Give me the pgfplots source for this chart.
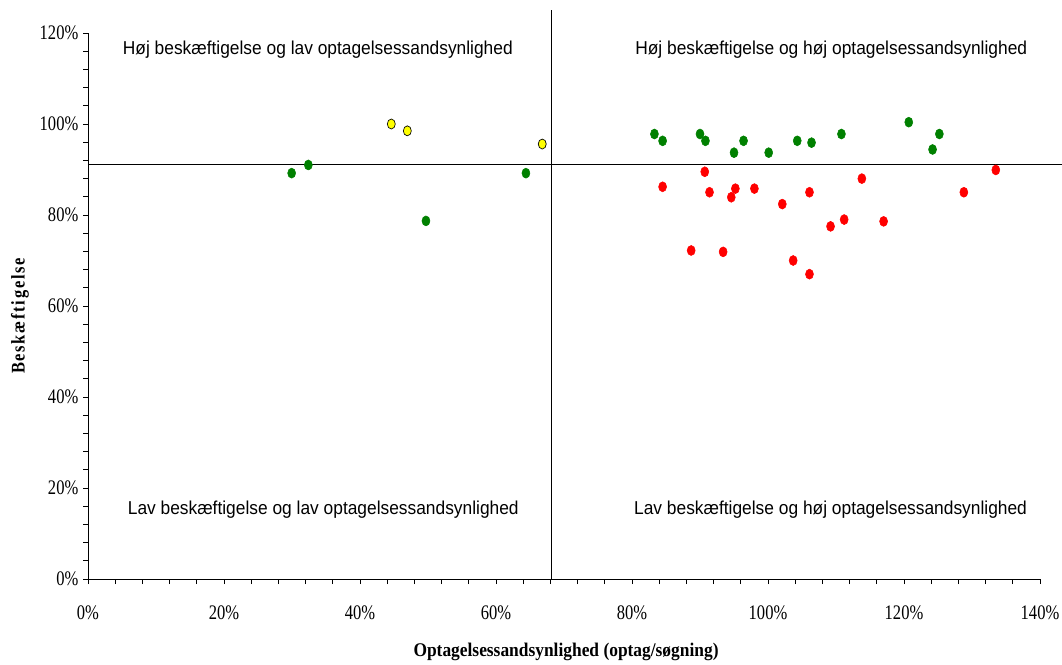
\documentclass[border=0pt]{standalone}
\usepackage{fontspec}
\usepackage{pgfplots}
\pgfplotsset{compat=1.18}
\setmainfont{Liberation Serif}
\newfontfamily\tickfont[FakeStretch=0.8]{Liberation Serif}
\newfontfamily\quadfont[FakeStretch=0.93]{Liberation Sans}
\newfontfamily\labfont[FakeStretch=0.9]{Liberation Serif}
\newfontfamily\ylabfont[LetterSpace=9,FakeStretch=0.85]{Liberation Serif}
\definecolor{cgreen}{RGB}{0,128,0}
\definecolor{cred}{RGB}{255,0,0}
\definecolor{cyellow}{RGB}{255,255,0}
\begin{document}
\begin{tikzpicture}
\begin{axis}[
  scale only axis, width=714pt, height=409.5pt,
  xmin=0, xmax=140, ymin=0, ymax=120,
  axis lines=left, axis line style={-, black, line width=0.6pt},
  xtick={0,20,...,140}, ytick={0,20,...,120},
  minor x tick num=4, minor y tick num=4,
  tick align=outside, major tick length=3.75pt, minor tick length=3.75pt,
  tick style={black, line width=0.6pt},
  /pgf/number format/assume math mode=true,
  xticklabel={\pgfmathprintnumber{\tick}\%},
  yticklabel={\pgfmathprintnumber{\tick}\%},
  tick label style={font=\tickfont\fontsize{15.5}{18}\selectfont},
  xticklabel style={yshift=-13pt},
  clip=false,
]
\coordinate (ll) at (rel axis cs:0,0);
\coordinate (ur) at (rel axis cs:1,1);
% quadrant lines
\draw[black, line width=0.75pt] (axis cs:68.2,0) -- (axis cs:68.2,125.1);
\draw[black, line width=0.75pt] (axis cs:0,91.0) -- (axis cs:143.5,91.0);
% green
\addplot[only marks, mark=*, mark size=3pt, mark options={yscale=1.25, fill=cgreen, draw=cgreen}] coordinates {
(29.95,89.2) (32.4,91.0) (64.4,89.2) (49.7,78.7)
(83.3,97.8) (84.5,96.3) (90.0,97.8) (90.8,96.3) (95.0,93.7) (96.4,96.3)
(100.1,93.7) (104.3,96.3) (106.4,95.9) (110.8,97.8) (120.7,100.4)
(125.2,97.8) (124.2,94.4)
};
% red
\addplot[only marks, mark=*, mark size=3pt, mark options={yscale=1.25, fill=cred, draw=cred}] coordinates {
(90.7,89.5) (84.5,86.2) (91.4,85.0) (95.2,85.8) (94.6,83.9) (98.0,85.8)
(102.1,82.4) (106.1,85.0) (113.8,88.0) (109.2,77.5) (111.2,79.0)
(117.0,78.6) (128.8,85.0) (133.5,89.9) (88.7,72.2) (93.4,71.9)
(103.7,70.0) (106.1,67.0)
};
% yellow
\addplot[only marks, mark=*, mark size=3pt, mark options={yscale=1.25, fill=cyellow, draw=black, line width=0.5pt}] coordinates {
(44.6,100.0) (46.96,98.5) (66.8,95.6)
};
% quadrant labels
\node[anchor=base, font=\quadfont\fontsize{14}{16}\selectfont] at (axis cs:33.8,115.2) {Høj beskæftigelse og lav optagelsessandsynlighed};
\node[anchor=base, font=\quadfont\fontsize{14}{16}\selectfont] at (axis cs:109.3,115.2) {Høj beskæftigelse og høj optagelsessandsynlighed};
\node[anchor=base, font=\quadfont\fontsize{14}{16}\selectfont] at (axis cs:34.6,14.1) {Lav beskæftigelse og lav optagelsessandsynlighed};
\node[anchor=base, font=\quadfont\fontsize{14}{16}\selectfont] at (axis cs:109.2,14.1) {Lav beskæftigelse og høj optagelsessandsynlighed};
% axis labels
\node[anchor=center, font=\labfont\bfseries\fontsize{14.5}{16}\selectfont] at (axis cs:70.3,-16.0) {Optagelsessandsynlighed (optag/søgning)};
\node[anchor=center, rotate=90, font=\ylabfont\bfseries\fontsize{14.5}{16}\selectfont] at (axis cs:-10,57.8) {Beskæftigelse};
\end{axis}
\pgfresetboundingbox
\path[use as bounding box] ([xshift=-66pt,yshift=-63.75pt]ll) rectangle ([xshift=16.5pt,yshift=24.75pt]ur);
\end{tikzpicture}
\end{document}
